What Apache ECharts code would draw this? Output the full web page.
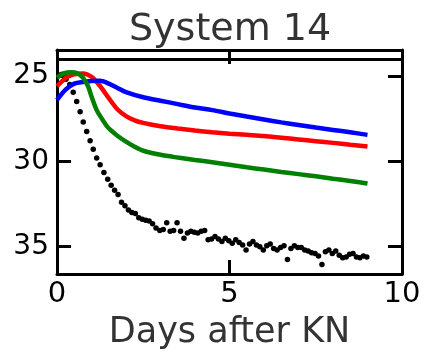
<!DOCTYPE html>
<html>
<head>
<meta charset="utf-8">
<script src="https://cdn.jsdelivr.net/npm/echarts@6/dist/echarts.min.js"></script>
<style>
  html, body { margin: 0; padding: 0; background: #fff; }
  #chart { width: 424px; height: 352px; }
</style>
</head>
<body>
<div id="chart"></div>
<script>
// Light curves (magnitude vs days after kilonova)
const blueDays = [0, 0.25, 0.5, 0.75, 1.0, 1.25, 1.5, 1.75, 2.0, 2.5, 3, 3.5, 4, 4.5, 5, 5.5, 6, 6.5, 7, 7.5, 8, 8.5, 9];
const blueMag  = [26.4, 25.8, 25.45, 25.35, 25.3, 25.28, 25.45, 25.7, 25.95, 26.25, 26.45, 26.65, 26.85, 27.0, 27.2, 27.38, 27.55, 27.72, 27.87, 28.02, 28.16, 28.3, 28.45];

const redDays = [0, 0.15, 0.3, 0.5, 0.75, 1.0, 1.25, 1.5, 1.75, 2.0, 2.25, 2.5, 3, 3.5, 4, 4.5, 5, 5.5, 6, 6.5, 7, 7.5, 8, 8.5, 9];
const redMag  = [25.6, 25.3, 25.05, 24.9, 24.85, 25.05, 25.6, 26.3, 26.95, 27.35, 27.6, 27.75, 27.95, 28.08, 28.2, 28.3, 28.38, 28.45, 28.52, 28.62, 28.72, 28.82, 28.92, 29.03, 29.13];

const greenDays = [0, 0.2, 0.4, 0.6, 0.75, 0.9, 1.0, 1.15, 1.3, 1.45, 1.6, 1.75, 2.0, 2.25, 2.5, 3, 3.5, 4, 4.5, 5, 5.5, 6, 6.5, 7, 7.5, 8, 8.5, 9];
const greenMag  = [25.1, 24.85, 24.78, 24.85, 25.1, 25.6, 26.2, 27.0, 27.5, 27.95, 28.25, 28.5, 28.85, 29.15, 29.38, 29.62, 29.78, 29.92, 30.05, 30.2, 30.35, 30.48, 30.62, 30.75, 30.88, 31.02, 31.15, 31.3];

const blackDays = [0.05, 0.15, 0.26, 0.37, 0.47, 0.57, 0.67, 0.76, 0.86, 0.96, 1.05, 1.15, 1.25, 1.36, 1.47, 1.57, 1.67, 1.77, 1.87, 1.97,
  2.07, 2.17, 2.27, 2.37, 2.47, 2.57, 2.67, 2.77, 2.87, 2.98, 3.08, 3.18, 3.28, 3.38, 3.48, 3.58, 3.68, 3.78, 3.88, 3.98,
  4.08, 4.18, 4.28, 4.38, 4.48, 4.58, 4.68, 4.78, 4.88, 4.98, 5.08, 5.18, 5.28, 5.38, 5.48, 5.58, 5.68, 5.78, 5.88, 5.98,
  6.08, 6.18, 6.28, 6.38, 6.48, 6.58, 6.68, 6.78, 6.88, 6.98, 7.08, 7.18, 7.28, 7.38, 7.48, 7.58, 7.68, 7.78, 7.88, 7.98,
  8.08, 8.18, 8.28, 8.38, 8.48, 8.58, 8.68, 8.78, 8.88, 8.98];
const blackMag = [24.95, 24.9, 25.2, 25.5, 25.95, 26.5, 27.1, 27.7, 28.25, 28.8, 29.3, 29.8, 30.2, 30.65, 31.05, 31.4, 31.7, 31.95, 32.4, 32.6,
  32.85, 33.0, 33.05, 33.3, 33.4, 33.45, 33.5, 33.65, 33.9, 34.05, 34.0, 33.6, 34.1, 34.05, 33.6, 34.1, 34.5, 34.2, 34.1, 34.15,
  34.2, 34.1, 34.05, 34.6, 34.55, 34.4, 34.55, 34.7, 34.5, 34.65, 34.8, 34.6, 34.75, 34.9, 35.2, 34.85, 34.7, 34.9, 35.0, 35.2,
  34.95, 34.85, 35.1, 35.2, 35.05, 34.95, 35.75, 35.1, 34.95, 35.05, 35.05, 35.2, 35.25, 35.35, 35.4, 35.55, 36.05, 35.3, 35.2, 35.4,
  35.25, 35.5, 35.65, 35.6, 35.45, 35.4, 35.6, 35.65, 35.55, 35.6];

const xTicks = [0, 5, 10];
const yTicks = [25, 30, 35];
const limitMag = 24;

const pairs = (xs, ys) => xs.map((x, i) => [x, ys[i]]);

const FONT = 'DejaVu Sans';
const frameLine = () => ({ show: true, onZero: false, lineStyle: { color: '#000', width: 3 } });
const innerTick = (extra) => Object.assign(
  { show: true, inside: true, length: 14, lineStyle: { color: '#000', width: 3 } }, extra || {});

const chart = echarts.init(document.getElementById('chart'), null, { renderer: 'canvas' });
chart.setOption({
  animation: false,
  backgroundColor: '#fff',
  title: {
    text: 'System 14',
    left: 124,
    top: 6,
    textStyle: { fontFamily: FONT, fontSize: 38, fontWeight: 'normal', color: '#333' }
  },
  grid: { left: 57, right: 22, top: 50, bottom: 78, containLabel: false, outerBoundsMode: 'none' },
  xAxis: [
    {
      type: 'value', min: 0, max: 10, interval: 5, position: 'bottom',
      name: 'Days after KN', nameLocation: 'middle', nameGap: 41,
      nameTextStyle: { fontFamily: FONT, fontSize: 35, color: '#333' },
      axisLine: frameLine(), axisTick: innerTick({ customValues: xTicks }),
      axisLabel: { fontFamily: FONT, fontSize: 29, color: '#000', margin: 6, customValues: xTicks },
      splitLine: { show: false }
    },
    {
      type: 'value', min: 0, max: 10, interval: 5, position: 'top',
      axisLine: frameLine(), axisTick: innerTick({ customValues: xTicks }),
      axisLabel: { show: false }, splitLine: { show: false }
    }
  ],
  yAxis: [
    {
      type: 'value', inverse: true, min: 23.48, max: 36.6, position: 'left',
      axisLine: frameLine(),
      axisTick: innerTick({ customValues: yTicks }),
      axisLabel: { fontFamily: FONT, fontSize: 28, color: '#000', margin: 8, customValues: yTicks },
      splitLine: { show: false }
    },
    {
      type: 'value', inverse: true, min: 23.48, max: 36.6, position: 'right',
      axisLine: frameLine(),
      axisTick: innerTick({ customValues: yTicks }),
      axisLabel: { show: false }, splitLine: { show: false }
    }
  ],
  series: [
    {
      name: 'red', type: 'line', data: pairs(redDays, redMag), smooth: 0.3,
      symbol: 'none', lineStyle: { color: '#ff0000', width: 4.5 },
      markLine: {
        silent: true, symbol: 'none', label: { show: false },
        lineStyle: { color: '#000', width: 3, type: 'solid' },
        data: [{ yAxis: limitMag }]
      }
    },
    {
      name: 'blue', type: 'line', data: pairs(blueDays, blueMag), smooth: 0.3,
      symbol: 'none', lineStyle: { color: '#0000ff', width: 4.5 }
    },
    {
      name: 'green', type: 'line', data: pairs(greenDays, greenMag), smooth: 0.3,
      symbol: 'none', lineStyle: { color: '#008000', width: 4.5 }
    },
    {
      name: 'black', type: 'scatter', data: pairs(blackDays, blackMag),
      symbol: 'circle', symbolSize: 5.5, itemStyle: { color: '#000', opacity: 1 }
    }
  ]
});
</script>
</body>
</html>
